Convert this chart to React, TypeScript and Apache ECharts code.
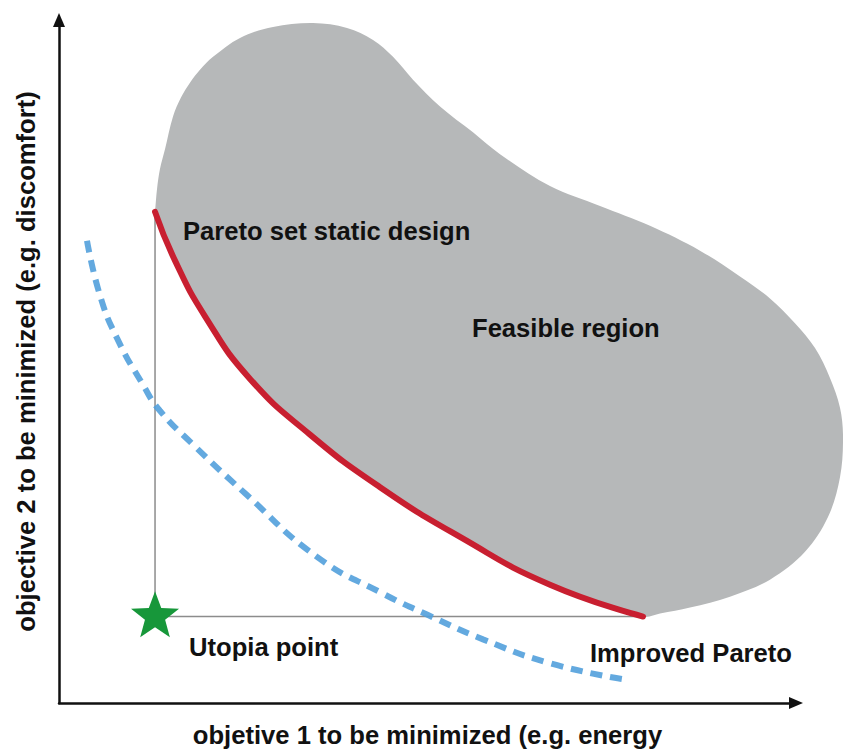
import React, { useEffect, useRef } from "react";
import * as echarts from "echarts";

// Pareto front of the static design (objective 1, objective 2)
const paretoX = [13.03, 15.74, 19.81, 25.92, 34.06, 43.56, 54.41, 66.62, 79.24];
const paretoY = [71.91, 64.77, 56.62, 47.45, 39.3, 31.59, 24.31, 17.32, 12.66];

// Improved Pareto front (dashed)
const improvedX = [3.8, 5.56, 7.87, 11.4, 13.7, 18.18, 25.24, 35.01, 43.96, 49.93, 57.53, 66.62, 76.53];
const improvedY = [67.69, 59.68, 53.42, 46.58, 42.79, 37.85, 30.71, 21.4, 16.01, 12.95, 9.32, 5.82, 3.49];

// Outer boundary of the feasible region (from Pareto start, clockwise, to Pareto end)
const regionX = [13.3, 13.7, 14.38, 15.47, 16.55, 17.77, 19.13, 20.9, 24.56, 29.04, 34.46, 39.08, 42.61, 45.32, 48.03, 51.7, 56.17, 59.84, 66.62, 73.41, 80.19, 86.97, 92.4, 96.47, 99.86, 102.58, 104.61, 105.97, 106.38, 105.97, 104.34, 101.22, 96.47, 91.04, 85.62, 81.55];
const regionY = [75.25, 78.17, 81.08, 85.88, 88.65, 90.83, 92.72, 94.61, 97.38, 98.98, 99.56, 98.84, 97.09, 94.61, 91.27, 87.34, 83.55, 80.35, 75.69, 72.78, 69.87, 66.23, 62.45, 59.24, 55.6, 51.97, 47.6, 43.23, 38.86, 33.04, 27.22, 22.13, 18.05, 15.57, 13.97, 13.1];

// Utopia point
const utopiaX = 13.03;
const utopiaY = 12.66;

const xAxisName = "objetive 1 to be minimized (e.g. energy";
const yAxisName = "objective 2 to be minimized (e.g. discomfort)";
const labelPareto = "Pareto set static design";
const labelFeasible = "Feasible region";
const labelUtopia = "Utopia point";
const labelImproved = "Improved Pareto";

const FONT = "Liberation Sans, Arial, Helvetica, sans-serif";
const FS = 25.6;

const STAR =
  "path://M50,0 L62.34,33.01 L97.55,34.55 L69.97,56.49 L79.39,90.45 L50,71 L20.61,90.45 L30.03,56.49 L2.45,34.55 L37.66,33.01 Z";

export default function App() {
  const ref = useRef<HTMLDivElement>(null);

  useEffect(() => {
    if (!ref.current) return;
    const chart = echarts.init(ref.current, null, { renderer: "svg" });

    const pareto = paretoX.map((x, i) => [x, paretoY[i]]);
    const improved = improvedX.map((x, i) => [x, improvedY[i]]);
    const region = regionX.map((x, i) => [x, regionY[i]]);
    const blob = [pareto[0], ...region, ...pareto.slice().reverse()];
    const first = pareto[0];
    const last = pareto[pareto.length - 1];
    const guide = [
      [utopiaX, first[1]],
      [utopiaX, utopiaY],
      [last[0], utopiaY],
    ];

    const txt = (text: string, x: number, y: number) => ({
      type: "text",
      x,
      y,
      silent: true,
      z: 100,
      style: {
        text,
        font: `bold ${FS}px ${FONT}`,
        fill: "#111111",
        align: "left",
        verticalAlign: "middle",
        textAlign: "left",
        textVerticalAlign: "middle",
      },
    });

    const axisCommon = {
      type: "value",
      min: 0,
      max: 100,
      axisTick: { show: false },
      axisLabel: { show: false },
      splitLine: { show: false },
      nameLocation: "middle",
      nameTextStyle: {
        fontFamily: FONT,
        fontWeight: "bold",
        fontSize: FS,
        color: "#111111",
      },
      axisLine: {
        show: true,
        symbol: ["none", "triangle"],
        symbolSize: [12, 14],
        lineStyle: { color: "#111111", width: 2.5 },
      },
    };

    chart.setOption({
      animation: false,
      backgroundColor: "#ffffff",
      grid: { left: 59, right: 47, top: 20, bottom: 46, containLabel: false },
      xAxis: { ...axisCommon, name: xAxisName, nameGap: 19 },
      yAxis: { ...axisCommon, name: yAxisName, nameGap: 20 },
      series: [
        {
          type: "custom",
          name: "Feasible region",
          clip: false,
          silent: true,
          z: 1,
          data: [[0, 0]],
          renderItem: (_params: any, api: any) => ({
            type: "polygon",
            shape: { points: blob.map((p) => api.coord(p)), smooth: 0.35 },
            style: { fill: "#b6b8b9", stroke: "none" },
          }),
        },
        {
          type: "line",
          name: "guides",
          data: guide,
          symbol: "none",
          silent: true,
          z: 2,
          lineStyle: { color: "#8c8c8c", width: 1.5 },
        },
        {
          type: "line",
          name: "Improved Pareto",
          data: improved,
          smooth: 0.5,
          symbol: "none",
          silent: true,
          clip: false,
          z: 3,
          lineStyle: { color: "#52a0db", width: 6, type: [12, 8], cap: "butt", opacity: 0.9 },
        },
        {
          type: "line",
          name: "Pareto set static design",
          data: pareto,
          smooth: 0.5,
          symbol: "none",
          silent: true,
          clip: false,
          z: 4,
          lineStyle: { color: "#c81f30", width: 6, cap: "round" },
        },
        {
          type: "scatter",
          name: "Utopia point",
          data: [[utopiaX, utopiaY]],
          symbol: STAR,
          symbolSize: [48, 46],
          symbolOffset: [0, -2.4],
          silent: true,
          z: 5,
          itemStyle: { color: "#17973a", opacity: 1 },
        },
      ],
      graphic: [
        txt(labelPareto, 183, 231),
        txt(labelFeasible, 472, 328),
        txt(labelUtopia, 189, 647),
        txt(labelImproved, 590, 653),
      ],
    });

    return () => chart.dispose();
  }, []);

  return (
    <div
      ref={ref}
      style={{ position: "fixed", left: 0, top: 0, width: 843, height: 753, background: "#fff" }}
    />
  );
}
